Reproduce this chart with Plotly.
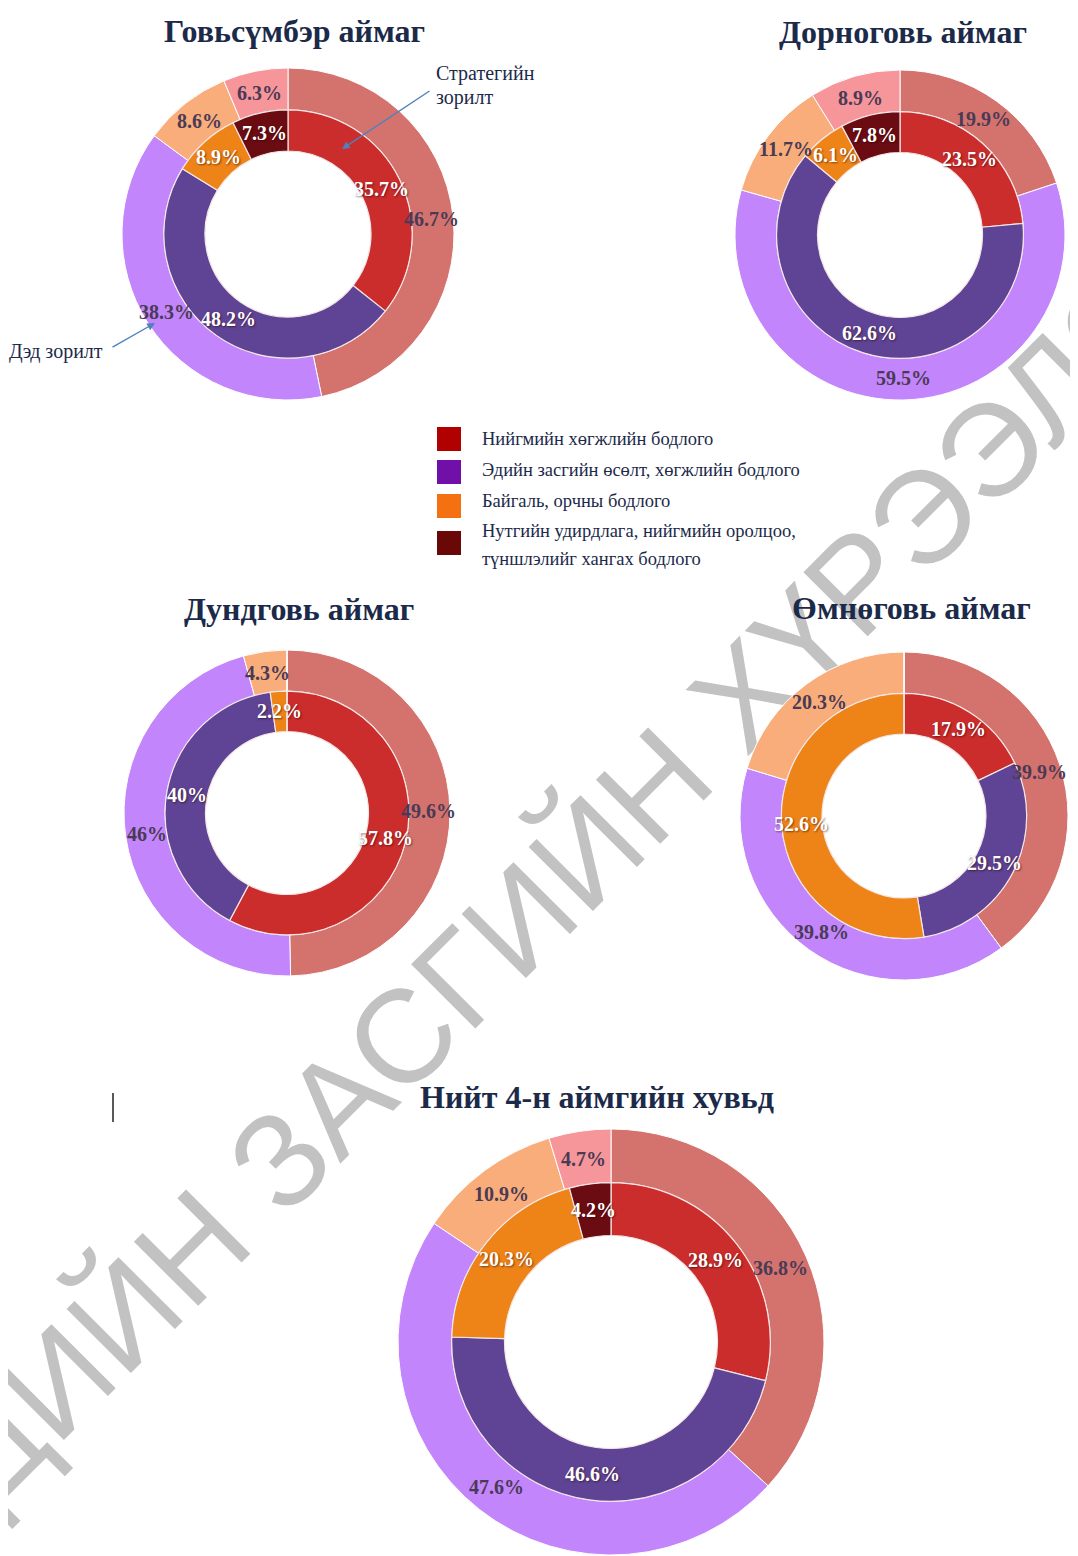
import math
import plotly.graph_objects as go

# page is rendered with an 8px body margin; work in reference pixel
# coordinates and convert.
OFF = 8
FW, FH = 1070, 1548

# ---------------- data ----------------
categories = [
    "Нийгмийн хөгжлийн бодлого",
    "Эдийн засгийн өсөлт, хөгжлийн бодлого",
    "Байгаль, орчны бодлого",
    "Нутгийн удирдлага, нийгмийн оролцоо, түншлэлийг хангах бодлого",
]
regions = ["Говьсүмбэр аймаг", "Дорноговь аймаг", "Дундговь аймаг",
           "Өмнөговь аймаг", "Нийт 4-н аймгийн хувьд"]

# inner ring: strategic goals (Стратегийн зорилт), %
strategic_govsumber = [35.7, 48.2, 8.9, 7.3]
strategic_dornogovi = [23.5, 62.6, 6.1, 7.8]
strategic_dundgovi = [57.8, 40.0, 2.2, 0.0]
strategic_umnugovi = [17.9, 29.5, 52.6, 0.0]
strategic_total = [28.9, 46.6, 20.3, 4.2]

# outer ring: sub-goals (Дэд зорилт), %
sub_govsumber = [46.7, 38.3, 8.6, 6.3]
sub_dornogovi = [19.9, 59.5, 11.7, 8.9]
sub_dundgovi = [49.6, 46.0, 4.3, 0.0]
sub_umnugovi = [39.9, 39.8, 20.3, 0.0]
sub_total = [36.8, 47.6, 10.9, 4.7]

strategic = [strategic_govsumber, strategic_dornogovi, strategic_dundgovi,
             strategic_umnugovi, strategic_total]
sub = [sub_govsumber, sub_dornogovi, sub_dundgovi, sub_umnugovi, sub_total]

# ---------------- styles / layout ----------------
inner_colors = ["#cb2c2c", "#5f4394", "#ee8418", "#6b0b12"]
outer_colors = ["#d4736e", "#c285fb", "#f9ad7a", "#f7969a"]
legend_colors = ["#b00000", "#7010a8", "#f47010", "#6a0808"]

# (center x, center y, outer radius) in reference pixels
panels = [(288, 234, 166), (900, 235, 165), (287, 813, 163),
          (904, 816, 164), (611, 1342, 213)]
title_pos = [(294, 31), (903, 32), (299, 609), (911, 608), (597, 1097)]

RING = 0.748   # inner ring outer radius / outer radius
HOLE = 0.50    # hole radius / outer radius

SERIF = "Liberation Serif"
NAVY = "#1c2a4a"


def px(x):
    return (x - OFF) / FW


def py(y):
    return 1 - (y - OFF) / FH


def dom(cx, cy, r):
    return dict(x=[px(cx - r), px(cx + r)], y=[py(cy + r), py(cy - r)])


fig = go.Figure()
annotations = []


def ring_labels(vals, cx, cy, rad, color, shadow):
    total = sum(vals)
    cum = 0.0
    for v in vals:
        if v > 0:
            ang = (cum + v / 2) / total * 2 * math.pi
            annotations.append(dict(
                x=px(cx + rad * math.sin(ang)), y=py(cy - rad * math.cos(ang)),
                xref="paper", yref="paper", text="<b>%g%%</b>" % v,
                showarrow=False, xanchor="center", yanchor="middle",
                font=dict(family=SERIF, size=20, color=color, shadow=shadow)))
        cum += v


for name, inner, outer, (cx, cy, R) in zip(regions, strategic, sub, panels):
    fig.add_trace(go.Pie(
        values=outer, labels=categories, name=name + " - Дэд зорилт",
        domain=dom(cx, cy, R), hole=RING, sort=False,
        direction="clockwise", rotation=0,
        marker=dict(colors=outer_colors, line=dict(color="white", width=1)),
        textinfo="none", hoverinfo="label+value", showlegend=False,
    ))
    Ri = R * RING
    fig.add_trace(go.Pie(
        values=inner, labels=categories, name=name + " - Стратегийн зорилт",
        domain=dom(cx, cy, Ri), hole=HOLE / RING, sort=False,
        direction="clockwise", rotation=0,
        marker=dict(colors=inner_colors, line=dict(color="#f4e6e6", width=1.2)),
        textinfo="none", hoverinfo="label+value", showlegend=False,
    ))
    ring_labels(outer, cx, cy, R * 0.867, "#4a3a55", "none")
    ring_labels(inner, cx, cy, R * 0.625, "white",
                "1px 1px 2px rgba(40,0,0,0.55)")

for name, (tx, ty) in zip(regions, title_pos):
    annotations.append(dict(
        x=px(tx), y=py(ty), xref="paper", yref="paper", text="<b>%s</b>" % name,
        showarrow=False, xanchor="center", yanchor="middle",
        font=dict(family=SERIF, size=32, color=NAVY)))


def arrow(head, tail):
    return dict(x=px(head[0]), y=py(head[1]), xref="paper", yref="paper",
                ax=tail[0] - head[0], ay=tail[1] - head[1],
                axref="pixel", ayref="pixel", text="", showarrow=True,
                arrowhead=2, arrowsize=1.1, arrowwidth=1.4,
                arrowcolor="#4f81bd")


def note(txt, x, y):
    return dict(x=px(x), y=py(y), xref="paper", yref="paper", text=txt,
                showarrow=False, xanchor="left", yanchor="middle",
                font=dict(family=SERIF, size=20, color=NAVY))


# pointer labels on first chart
annotations.append(arrow((342, 149), (431, 90)))
annotations.append(note("Стратегийн", 434, 74))
annotations.append(note("зорилт", 434, 97))
annotations.append(arrow((155, 323), (111, 348)))
annotations.append(note("Дэд зорилт", 7, 351))

# manual legend
shapes = []
sq_centers = [439, 472, 506, 543]
for col, c in zip(legend_colors, sq_centers):
    shapes.append(dict(type="rect", xref="paper", yref="paper",
                       x0=px(437), x1=px(461), y0=py(c + 12), y1=py(c - 12),
                       fillcolor=col, line=dict(width=0)))
legend_lines = [
    (categories[0], 439), (categories[1], 470), (categories[2], 501),
    ("Нутгийн удирдлага, нийгмийн оролцоо,", 531),
    ("түншлэлийг хангах бодлого", 559),
]
for txt, y in legend_lines:
    annotations.append(dict(
        x=px(480), y=py(y), xref="paper", yref="paper", text=txt,
        showarrow=False, xanchor="left", yanchor="middle",
        font=dict(family=SERIF, size=18.5, color=NAVY)))

# stray cursor mark
shapes.append(dict(type="line", xref="paper", yref="paper",
                   x0=px(113), x1=px(113), y0=py(1122), y1=py(1093),
                   line=dict(color="#222222", width=1.5)))

# watermark (behind the charts)
shapes.append(dict(
    type="rect", xref="paper", yref="paper", layer="below",
    x0=px(528), x1=px(568), y0=py(894), y1=py(854),
    line=dict(width=0), fillcolor="rgba(0,0,0,0)",
    label=dict(text="ЭДИЙН ЗАСГИЙН ХҮРЭЭЛЭН", textangle=-45,
               textposition="middle center",
               font=dict(family="Liberation Sans", size=132, color="#c2c2c2"))))

fig.update_layout(
    width=FW, height=FH, margin=dict(l=0, r=0, t=0, b=0),
    paper_bgcolor="white", plot_bgcolor="white",
    annotations=annotations, shapes=shapes,
    showlegend=False,
)

fig.write_html("out.html")
